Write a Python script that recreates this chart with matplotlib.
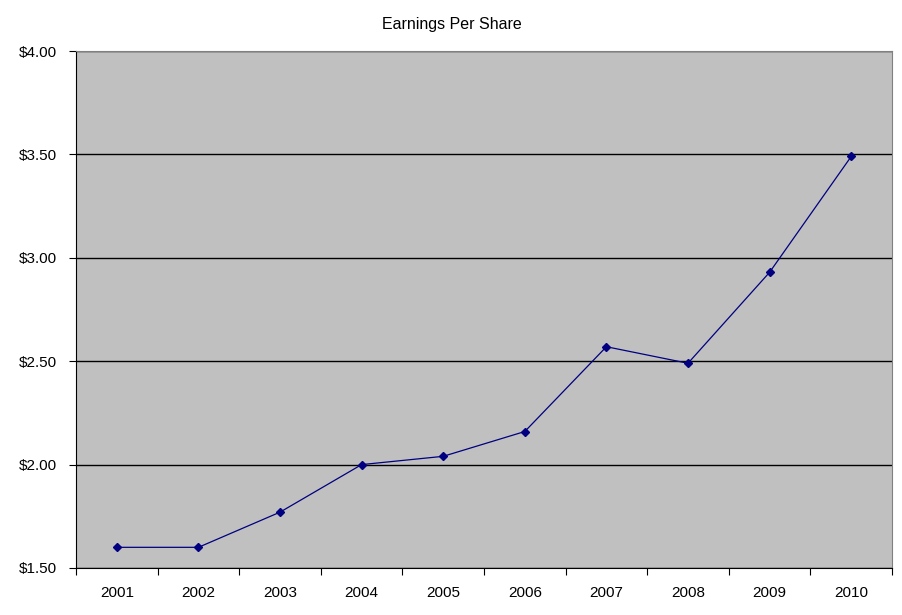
import matplotlib
matplotlib.use("Agg")
import matplotlib.pyplot as plt
from matplotlib.ticker import FuncFormatter

years = ["2001", "2002", "2003", "2004", "2005", "2006", "2007", "2008", "2009", "2010"]
eps = [1.60, 1.60, 1.77, 2.00, 2.04, 2.16, 2.57, 2.49, 2.93, 3.49]

plt.rcParams["font.family"] = ["Liberation Sans", "DejaVu Sans"]

fig = plt.figure(figsize=(9.03, 6.15), dpi=100)
ax = fig.add_axes([76 / 903, 1 - 568 / 615, 816 / 903, 517 / 615])
ax.set_facecolor("#c0c0c0")

x = list(range(len(years)))
ax.plot(x, eps, color="#000080", linewidth=0.9, marker="D", markersize=4)

ax.set_xlim(-0.5, len(years) - 0.5)
ax.set_ylim(1.5, 4.0)
ax.set_yticks([1.5, 2.0, 2.5, 3.0, 3.5, 4.0])
ax.yaxis.set_major_formatter(FuncFormatter(lambda v, p: "${:.2f}".format(v)))
ax.grid(axis="y", color="black", linewidth=1)
ax.set_axisbelow(True)

# category ticks sit on the boundaries, labels in between
ax.set_xticks([i - 0.5 for i in range(len(years) + 1)])
ax.set_xticklabels([])
ax.set_xticks(x, minor=True)
ax.set_xticklabels(years, minor=True)
ax.tick_params(axis="x", which="minor", length=0, pad=13, labelsize=11)
ax.tick_params(axis="x", which="major", direction="out", length=5, color="black")
ax.tick_params(axis="y", direction="out", length=5, labelsize=11, pad=9)

for side in ["top", "right"]:
    ax.spines[side].set_color("#808080")
for side in ["left", "bottom"]:
    ax.spines[side].set_color("black")

fig.text(0.5, 1 - 24 / 615, "Earnings Per Share", ha="center", va="center", fontsize=11.5)

fig.savefig("out.png", dpi=100)
